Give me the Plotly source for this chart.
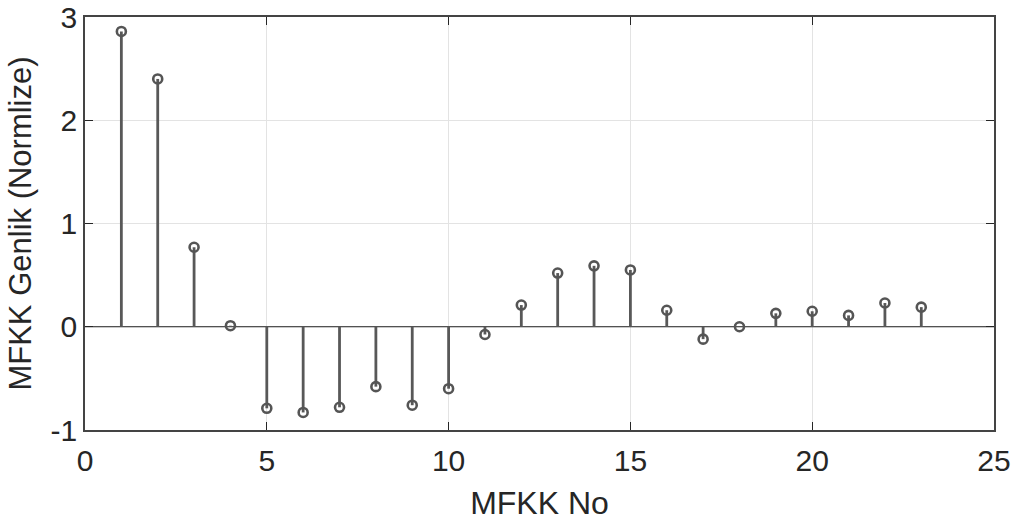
import plotly.graph_objects as go

mfkk_no = list(range(1, 24))
genlik = [2.86, 2.40, 0.77, 0.01, -0.79, -0.83, -0.78, -0.58, -0.76, -0.60,
          -0.075, 0.21, 0.52, 0.59, 0.55, 0.16, -0.12, 0.0, 0.13, 0.15, 0.11, 0.23, 0.19]
x_ticks = [0, 5, 10, 15, 20, 25]
y_ticks = [-1, 0, 1, 2, 3]
y_tick_text = ["-1", "0", "1", "2", "3"]

FONT = "Liberation Sans, Arial, sans-serif"

sx, sy = [], []
for xv, yv in zip(mfkk_no, genlik):
    sx += [xv, xv, None]
    sy += [0, yv, None]

fig = go.Figure()
fig.add_trace(go.Scatter(x=[0, 25], y=[0, 0], mode="lines",
                         line=dict(color="#222222", width=1.2), hoverinfo="skip", showlegend=False))
fig.add_trace(go.Scatter(x=sx, y=sy, mode="lines",
                         line=dict(color="#585858", width=2.8), hoverinfo="skip", showlegend=False))
fig.add_trace(go.Scatter(x=mfkk_no, y=genlik, mode="markers",
                         marker=dict(symbol="circle-open", size=9, color="#555555",
                                     line=dict(width=2.6, color="#555555")),
                         showlegend=False))

fig.update_layout(
    width=1019, height=523,
    margin=dict(l=85, r=25, t=17, b=93, autoexpand=False),
    paper_bgcolor="white", plot_bgcolor="white",
    font=dict(family=FONT, size=30, color="#262626"),
)
fig.update_xaxes(range=[0, 25], tickvals=x_ticks, ticks="inside", ticklen=8,
                 tickcolor="#262626", showgrid=True, gridcolor="#e3e3e3", gridwidth=1,
                 showline=True, linecolor="#444444", linewidth=1.5, mirror="allticks",
                 zeroline=False, automargin=False, tickfont=dict(size=30),
                 ticklabelstandoff=3,
                 title=dict(text="MFKK No", font=dict(size=32), standoff=16))
fig.update_yaxes(range=[-1, 3], tickvals=y_ticks, ticktext=y_tick_text, ticks="inside", ticklen=8,
                 tickcolor="#262626", showgrid=True, gridcolor="#e3e3e3", gridwidth=1,
                 showline=True, linecolor="#444444", linewidth=1.5, mirror="allticks",
                 zeroline=False, automargin=False, tickfont=dict(size=30),
                 title=dict(text="MFKK Genlik (Normlize)", font=dict(size=31), standoff=10))

fig.write_html("out.html")
